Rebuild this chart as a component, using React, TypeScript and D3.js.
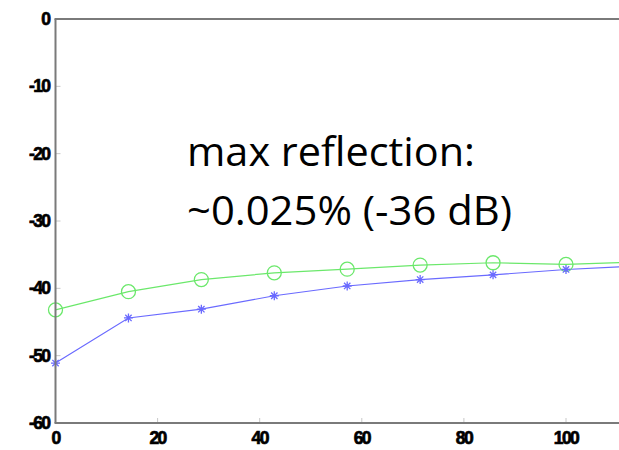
import React from "react";
import * as d3 from "d3";

const xValues = [0, 14.29, 28.57, 42.86, 57.14, 71.43, 85.71, 100, 114.29];
const greenSeries = [-43.2, -40.5, -38.7, -37.7, -37.15, -36.55, -36.2, -36.45, -36.1];
const blueSeries = [-51.1, -44.4, -43.1, -41.1, -39.65, -38.7, -38.0, -37.2, -36.65];
const xTicks = [0, 20, 40, 60, 80, 100];
const yTicks = [0, -10, -20, -30, -40, -50, -60];
const noteLines = ["max reflection:", "~0.025% (-36 dB)"];

const W = 619;
const H = 450;

export default function App() {
  const x = d3.scaleLinear().domain([0, 100]).range([55.5, 566]);
  const y = d3.scaleLinear().domain([-60, 0]).range([423, 19]);
  const line = d3
    .line<number>()
    .x((_, i) => x(xValues[i]))
    .y((d) => y(d));

  const green = "#6be86b";
  const blue = "#6a6aff";
  const axisColor = "#7a7a7a";
  const tickFont = {
    fontFamily: "'Liberation Sans', Arial, sans-serif",
    fontWeight: 700,
    fontSize: 17.5,
    letterSpacing: -1.6,
    stroke: "#000",
    strokeWidth: 0.7,
  } as const;

  const starPath = (cx: number, cy: number, r: number) => {
    const d = r * 0.7071;
    return `M${cx - r},${cy}L${cx + r},${cy}M${cx},${cy - r}L${cx},${cy + r}M${cx - d},${cy - d}L${cx + d},${cy + d}M${cx - d},${cy + d}L${cx + d},${cy - d}`;
  };

  return (
    <svg
      width={W}
      height={H}
      style={{ position: "absolute", left: 0, top: 0, background: "#fff" }}
    >
      <defs>
        <clipPath id="plotclip">
          <rect x={x(0) - 10} y={0} width={W} height={H} />
        </clipPath>
      </defs>

      {yTicks.map((t) => (
        <line
          key={"yt" + t}
          x1={x(0)}
          x2={x(0) + 5}
          y1={y(t)}
          y2={y(t)}
          stroke="#c8c8c8"
          strokeWidth={1}
        />
      ))}
      {xTicks.map((t) => (
        <line
          key={"xt" + t}
          x1={x(t)}
          x2={x(t)}
          y1={y(-60)}
          y2={y(-60) - 5}
          stroke="#c8c8c8"
          strokeWidth={1}
        />
      ))}

      <g clipPath="url(#plotclip)">
        <path d={line(greenSeries) ?? ""} fill="none" stroke={green} strokeWidth={1.2} />
        <path d={line(blueSeries) ?? ""} fill="none" stroke={blue} strokeWidth={1.2} />
        {greenSeries.map((v, i) => (
          <circle
            key={"g" + i}
            cx={x(xValues[i])}
            cy={y(v)}
            r={7}
            fill="none"
            stroke={green}
            strokeWidth={1.3}
          />
        ))}
        {blueSeries.map((v, i) => (
          <path
            key={"b" + i}
            d={starPath(x(xValues[i]), y(v), 4.5)}
            stroke={blue}
            strokeWidth={1.3}
            fill="none"
          />
        ))}
      </g>

      <line x1={x(0)} x2={x(0)} y1={y(0)} y2={y(-60)} stroke={axisColor} strokeWidth={2} />
      <line x1={x(0) - 1} x2={W} y1={y(-60)} y2={y(-60)} stroke={axisColor} strokeWidth={2} />
      <line x1={x(0) - 1} x2={W} y1={y(0)} y2={y(0)} stroke={axisColor} strokeWidth={2} />

      {yTicks.map((t) => (
        <text
          key={"yl" + t}
          x={x(0) - 6}
          y={y(t)}
          textAnchor="end"
          dominantBaseline="central"
          fill="#000"
          style={tickFont}
        >
          {t}
        </text>
      ))}
      {xTicks.map((t) => (
        <text
          key={"xl" + t}
          x={x(t)}
          y={y(-60) + 15}
          textAnchor="middle"
          dominantBaseline="central"
          fill="#000"
          style={tickFont}
        >
          {t}
        </text>
      ))}

      <text
        x={187}
        y={166}
        fontFamily="'Open Sans', 'Noto Sans', sans-serif"
        fontSize={41}
        fill="#000"
        textLength={288}
        lengthAdjust="spacingAndGlyphs"
      >
        {noteLines[0]}
      </text>
      <text
        x={187}
        y={225}
        fontFamily="'Open Sans', 'Noto Sans', sans-serif"
        fontSize={41}
        fill="#000"
        textLength={325}
        lengthAdjust="spacingAndGlyphs"
      >
        {noteLines[1]}
      </text>
    </svg>
  );
}
